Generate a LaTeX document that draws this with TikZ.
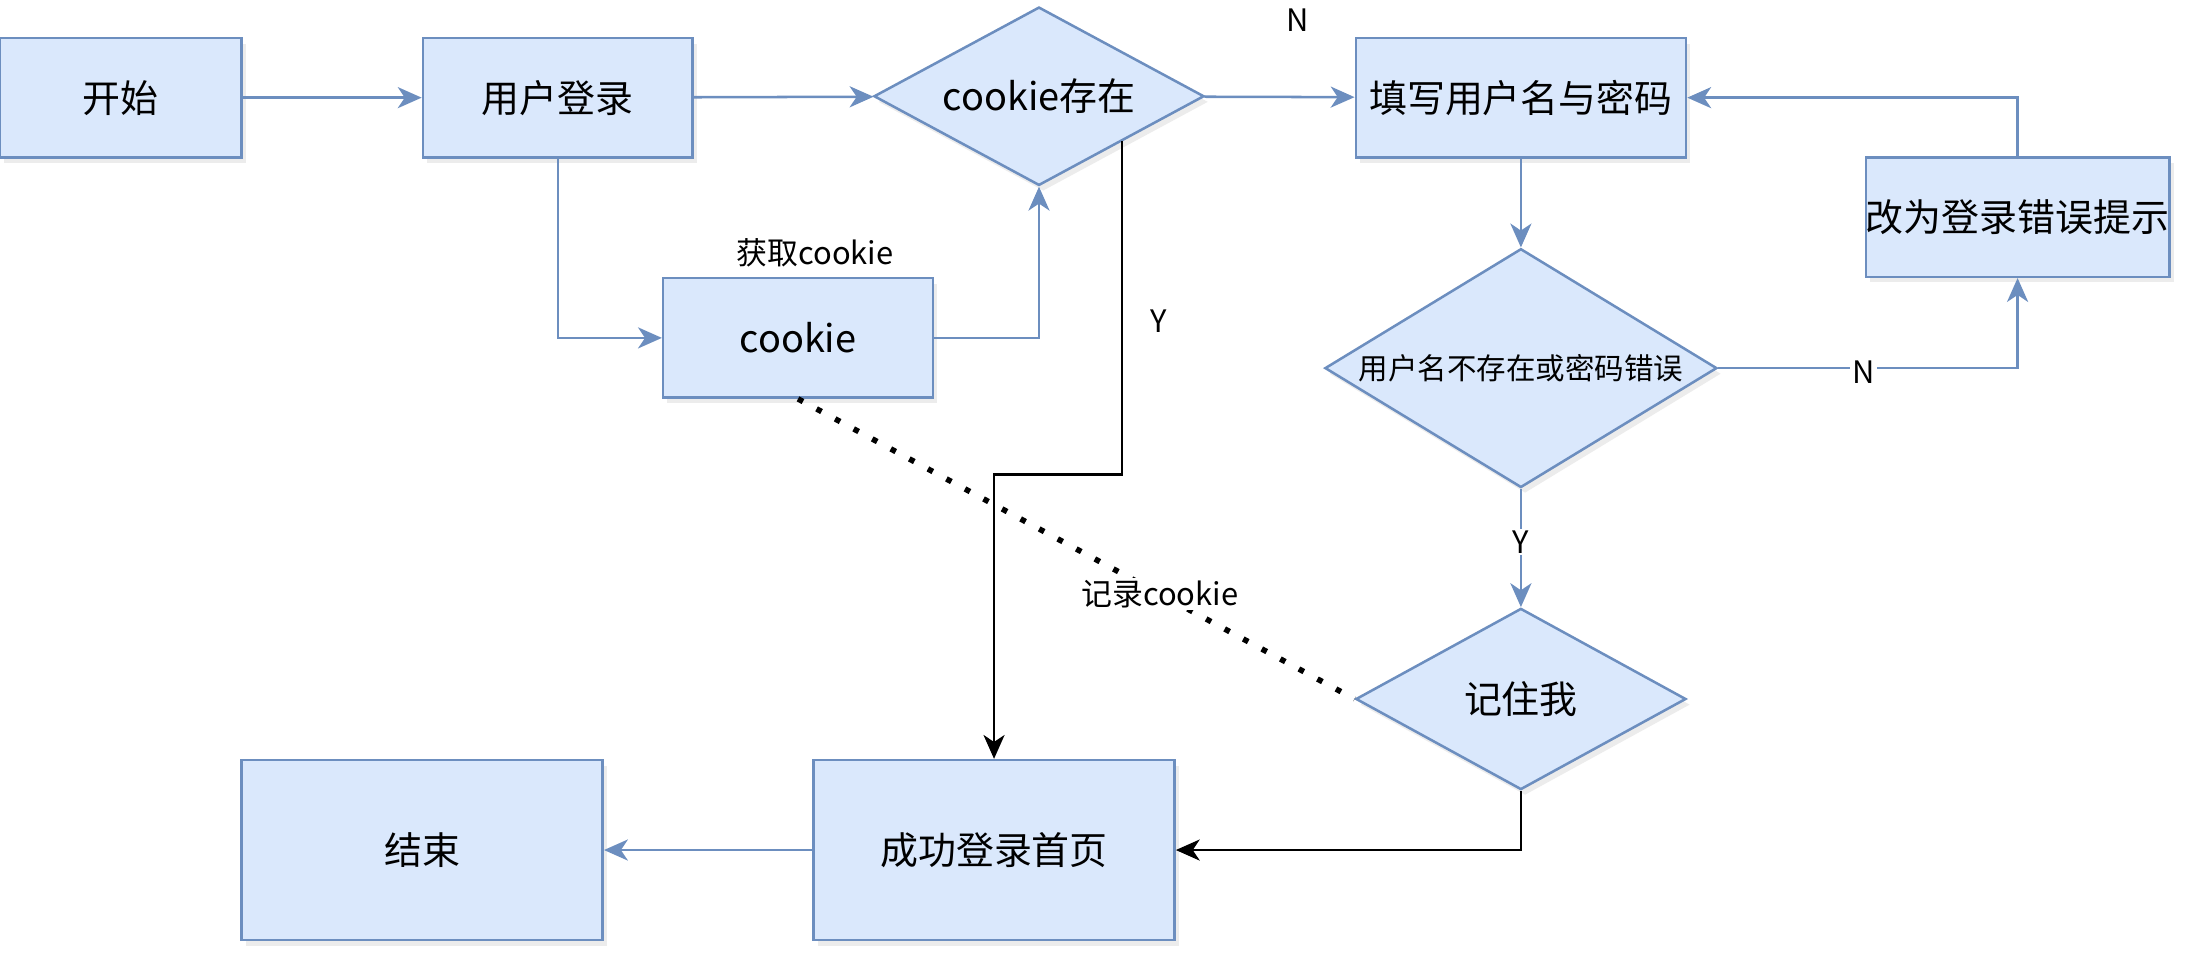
\documentclass[tikz,border=0pt]{standalone}
\usepackage{fontspec}
\setmainfont{Noto Sans CJK SC}
\usetikzlibrary{shapes.geometric,arrows.meta,positioning,calc,shadows}
\definecolor{bfill}{HTML}{DAE8FC}
\definecolor{bline}{HTML}{6C8EBF}
\tikzset{
	box/.style={draw=bline, fill=bfill, line width=1.8pt, inner sep=0pt, font=\fontsize{27}{31}\selectfont, drop shadow={opacity=.15, shadow xshift=3pt, shadow yshift=-4pt}},
	dec/.style={box, diamond},
	flow/.style={draw=bline, line width=1.8pt, -{Stealth[length=17pt, width=15pt, inset=5pt]}},
	blk/.style={draw=black, line width=1.8pt, -{Stealth[length=17pt, width=15pt, inset=5pt]}},
	lbl/.style={fill=white, inner sep=1.5pt, font=\fontsize{22}{26}\selectfont}
}
\begin{document}
\begin{tikzpicture}[x=1pt, y=-1pt]
	\useasboundingbox (0,0) rectangle (1563,691.8);
	\node[box, minimum width=172, minimum height=85] (start) at (86,69.5) {开始};
	\node[box, minimum width=192, minimum height=85] (login) at (397,69.5) {用户登录};
	\node[dec, aspect=1.85, minimum width=235, minimum height=127] (ckexist) at (739.5,68.5) {cookie存在};
	\node[box, minimum width=235, minimum height=85] (fillin) at (1082.5,69.5) {填写用户名与密码};
	\node[box, minimum width=214, minimum height=85] (errtip) at (1436,154.5) {改为登录错误提示};
	\node[dec, aspect=1.64, minimum width=279, minimum height=170, font=\fontsize{21}{25}\selectfont] (check) at (1082.5,262) {用户名不存在或密码错误};
	\node[box, minimum width=192, minimum height=85] (cookie) at (568,240.5) {cookie};
	\node[dec, aspect=1.82, minimum width=235, minimum height=129] (remember) at (1082.5,497.5) {记住我};
	\node[box, minimum width=257, minimum height=128] (success) at (707.5,605) {成功登录首页};
	\node[box, minimum width=257, minimum height=128] (finish) at (300.5,605) {结束};
	\node[lbl, above=5pt of cookie, xshift=12pt] (getck) {获取cookie};
	\draw[flow] (start) -- (login);
	\draw[flow] (login) -- (ckexist);
	\draw[flow] (login.south) |- (cookie.west);
	\draw[flow] (cookie.east) -| (ckexist.south);
	\draw[flow] (ckexist) -- node[lbl, pos=.62, yshift=55pt] (nocookie) {N} (fillin);
	\draw[blk] ($(ckexist.east)!.5!(ckexist.south)$) -- ++(0,237) node[lbl, pos=.54, xshift=26pt, fill=none] (hascookie) {Y} -| (success.north);
	\draw[flow] (fillin) -- (check);
	\draw[flow] (check.east) -| node[lbl, pos=.243, yshift=-3pt] (wrong) {N} (errtip.south);
	\draw[flow] (errtip.north) |- (fillin.east);
	\draw[flow] (check) -- node[lbl, pos=.45] (right) {Y} (remember);
	\draw[blk] (remember.south) |- (success.east);
	\draw[flow] (success) -- (finish);
	\draw[line width=4pt, dash pattern=on 4pt off 11pt] (cookie.south) -- node[lbl, pos=.65] (saveck) {记录cookie} (remember.west);
\end{tikzpicture}
\end{document}
